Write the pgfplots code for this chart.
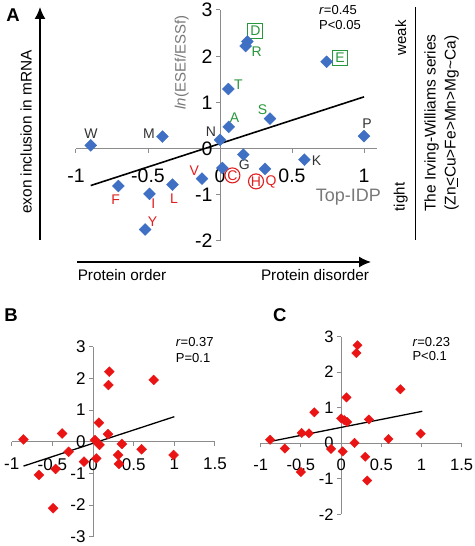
\documentclass[border=0pt]{standalone}
\usepackage{pgfplots}
\pgfplotsset{compat=1.18}
\usepackage{fontspec}
\setmainfont{Liberation Sans}
\usetikzlibrary{arrows.meta}
\definecolor{axgray}{RGB}{140,140,140}
\definecolor{mblue}{RGB}{64,112,196}
\definecolor{mred}{RGB}{235,20,20}
\definecolor{lgreen}{RGB}{40,150,60}
\definecolor{lred}{RGB}{225,30,30}
\definecolor{ltext}{RGB}{50,50,50}
\definecolor{tgray}{RGB}{120,120,120}
\pgfplotsset{mystyle/.style={
  scale only axis, axis lines=middle,
  axis line style={-,axgray,line width=1pt},
  tick style={axgray,line width=1pt}, major tick length=4pt, tick align=outside,
  enlargelimits=false, clip=false,
  hide obscured x ticks=false, hide obscured y ticks=false,
  /pgf/number format/assume math mode=true,
  anchor=south west,
}}
\begin{document}
\begin{tikzpicture}
\path[use as bounding box] (0,0) rectangle (474pt,546pt);
% ---------------- Panel A
\begin{axis}[mystyle, at={(76pt,305pt)}, width=301pt, height=231pt,
  xmin=-1, xmax=1.09, ymin=-2, ymax=3,
  xtick={-1,-0.5,0,0.5,1}, ytick={-2,-1,0,1,2,3},
  ticklabel style={font=\fontsize{19.5}{19.5}\selectfont},
  xticklabel style={yshift=-13pt}]
\addplot[only marks, mark=square*, mark size=4.2pt, mark options={rotate=45, fill=mblue, draw=mblue}] coordinates {
(-0.898,0.07) (-0.40,0.26) (0.0,0.19) (0.06,0.47) (0.058,1.29) (0.19,2.32) (0.178,2.22)
(0.74,1.88) (0.347,0.65) (1.0,0.27) (0.162,-0.13) (0.586,-0.24) (0.3125,-0.44)
(0.016,-0.42) (-0.125,-0.65) (-0.33,-0.78) (-0.49,-0.98) (-0.706,-0.81) (-0.52,-1.75)};
\addplot[black, line width=1.6pt] coordinates {(-0.898,-0.80) (1.0,1.12)};
\begin{scope}[every node/.style={font=\fontsize{14}{14}\selectfont, inner sep=0pt}]
\node[text=ltext] at (axis cs:-0.896,0.32) {W};
\node[text=ltext] at (axis cs:-0.493,0.32) {M};
\node[text=ltext] at (axis cs:-0.0625,0.36) {N};
\node[text=lgreen] at (axis cs:0.10,0.67) {A};
\node[text=lgreen] at (axis cs:0.127,1.38) {T};
\node[text=lgreen, draw=lgreen, line width=1.1pt, minimum size=15pt] at (axis cs:0.245,2.55) {D};
\node[text=lgreen] at (axis cs:0.255,2.10) {R};
\node[text=lgreen, draw=lgreen, line width=1.1pt, minimum size=15pt] at (axis cs:0.833,1.96) {E};
\node[text=lgreen] at (axis cs:0.296,0.84) {S};
\node[text=ltext] at (axis cs:1.02,0.54) {P};
\node[text=ltext] at (axis cs:0.169,-0.35) {G};
\node[text=ltext] at (axis cs:0.671,-0.26) {K};
\node[text=lred] at (axis cs:0.355,-0.73) {Q};
\node[text=lred, draw=lred, circle, line width=1.1pt, minimum size=15pt] at (axis cs:0.25,-0.71) {H};
\node[text=lred, draw=lred, circle, line width=1.1pt, minimum size=15pt] at (axis cs:0.086,-0.58) {C};
\node[text=lred] at (axis cs:-0.178,-0.47) {V};
\node[text=lred] at (axis cs:-0.32,-1.09) {L};
\node[text=lred] at (axis cs:-0.463,-1.19) {I};
\node[text=lred] at (axis cs:-0.725,-1.10) {F};
\node[text=lred] at (axis cs:-0.468,-1.58) {Y};
\end{scope}
\end{axis}
\node[font=\fontsize{13}{15}\selectfont, anchor=north west, align=left, inner sep=0pt] at (319pt,541pt) {\textit{r}=0.45\\P<0.05};
\node[rotate=90, text=tgray, font=\fontsize{15}{15}\selectfont] at (181.7pt,483.5pt) {\textit{ln}(ESEf/ESSf)};
\node[text=tgray, font=\fontsize{18}{18}\selectfont] at (348.3pt,349.3pt) {Top-IDP};
\node[font=\fontsize{18.5}{18.5}\selectfont\bfseries] at (13pt,531pt) {A};
\draw[line width=1.5pt, -{Latex[length=12pt,width=11pt]}] (40pt,306pt) -- (40pt,539pt);
\node[rotate=90, font=\fontsize{15.4}{15.4}\selectfont] at (26pt,414pt) {exon inclusion in mRNA};
\draw[line width=1.5pt, -{Latex[length=12pt,width=11pt]}] (77pt,284pt) -- (371pt,284pt);
\node[font=\fontsize{15.3}{15.3}\selectfont] at (122pt,271pt) {Protein order};
\node[font=\fontsize{15.3}{15.3}\selectfont] at (315pt,271pt) {Protein disorder};
\draw[line width=0.9pt] (415pt,539pt) -- (415pt,306pt);
\node[rotate=90, font=\fontsize{15}{15}\selectfont] at (400.7pt,508pt) {weak};
\node[rotate=90, font=\fontsize{15}{15}\selectfont] at (400.7pt,349pt) {tight};
\node[rotate=90, font=\fontsize{15.5}{20}\selectfont, align=center] at (441.7pt,423pt) {The Irving-Williams series\\(Zn\underline{<}Cu>Fe>Mn>Mg\textasciitilde Ca)};
% ---------------- Panel B
\begin{axis}[mystyle, at={(11.7pt,9.3pt)}, width=203.3pt, height=190pt,
  xmin=-1, xmax=1.5, ymin=-3, ymax=3,
  xtick={-1,-0.5,0,0.5,1,1.5}, ytick={-3,-2,-1,0,1,2,3},
  ticklabel style={font=\fontsize{17}{17}\selectfont},
  xticklabel style={yshift=-9pt}]
\addplot[only marks, mark=square*, mark size=3.5pt, mark options={rotate=45, fill=mred, draw=mred}] coordinates {
(-0.855,0.07) (-0.38,0.26) (-0.30,-0.32) (-0.46,-0.86) (-0.665,-1.05) (-0.49,-2.1)
(-0.11,-0.63) (0.04,-0.53) (0.024,0.05) (0.08,-0.1) (0.073,0.6) (0.2,2.21) (0.19,1.79)
(0.185,0.24) (0.355,-0.07) (0.31,-0.42) (0.32,-0.7) (0.597,-0.24) (0.746,1.95) (0.99,-0.42)};
\addplot[black, line width=1.3pt] coordinates {(-0.855,-0.77) (1.0,0.79)};
\end{axis}
\node[font=\fontsize{13}{16}\selectfont, anchor=north west, align=left, inner sep=0pt] at (175.7pt,209pt) {\textit{r}=0.37\\P=0.1};
\node[font=\fontsize{18.5}{18.5}\selectfont\bfseries] at (11pt,231pt) {B};
% ---------------- Panel C
\begin{axis}[mystyle, at={(260.7pt,31.7pt)}, width=201pt, height=177.6pt,
  xmin=-1, xmax=1.5, ymin=-2, ymax=3,
  xtick={-1,-0.5,0,0.5,1,1.5}, ytick={-2,-1,0,1,2,3},
  ticklabel style={font=\fontsize{16.5}{16.5}\selectfont},
  xticklabel style={yshift=-8pt}]
\addplot[only marks, mark=square*, mark size=3.3pt, mark options={rotate=45, fill=mred, draw=mred}] coordinates {
(-0.883,0.10) (-0.70,-0.15) (-0.49,0.29) (-0.40,0.28) (-0.5,-0.81) (-0.333,0.87)
(-0.125,-0.16) (0.02,-0.23) (0.0,0.70) (0.04,0.65) (0.075,0.60) (0.067,1.29)
(0.19,2.54) (0.204,2.76) (0.167,0.01) (0.30,-0.38) (0.325,-1.05) (0.346,0.67)
(0.59,0.12) (0.7375,1.52) (0.99,0.27)};
\addplot[black, line width=1.3pt] coordinates {(-0.883,0.05) (1.01,0.90)};
\end{axis}
\node[font=\fontsize{13}{14}\selectfont, anchor=north west, align=left, inner sep=0pt] at (412.3pt,209pt) {\textit{r}=0.23\\P<0.1};
\node[font=\fontsize{18.5}{18.5}\selectfont\bfseries] at (279.7pt,231pt) {C};
\end{tikzpicture}
\end{document}
